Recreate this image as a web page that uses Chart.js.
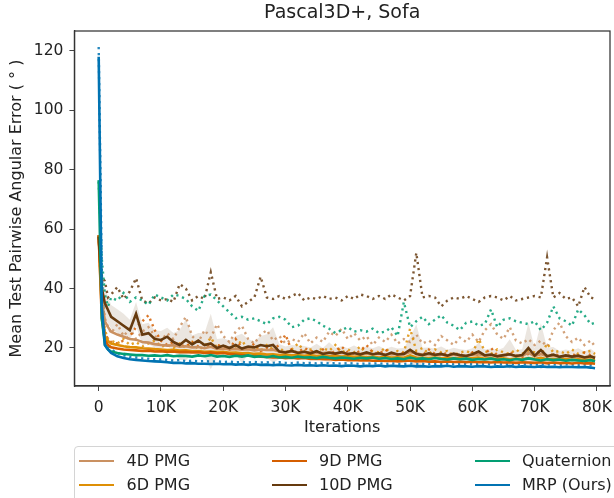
<!DOCTYPE html>
<html>
<head>
<meta charset="utf-8">
<script src="https://cdn.jsdelivr.net/npm/chart.js@4.4.1/dist/chart.umd.min.js"></script>
<style>
  html, body { margin: 0; padding: 0; background: #fff; }
  #wrap { position: relative; width: 614px; height: 498px; overflow: hidden; font-family: "DejaVu Sans", sans-serif; }
  #c { position: absolute; left: 0; top: 0; }
  #legend { position: absolute; left: 74px; top: 446px; width: 570px; height: 70px; border: 1px solid #d4d4d4; border-radius: 4px; background: rgba(255,255,255,0.85); }
  .lh { position: absolute; height: 2.6px; }
  .lt { position: absolute; font-size: 16px; line-height: 20px; height: 20px; color: #222; white-space: nowrap; }
</style>
</head>
<body>
<div id="wrap">
  <canvas id="c" width="614" height="498"></canvas>
  <div id="legend"></div>
</div>
<script>
// ---------------- data ----------------
const chartTitle = "Pascal3D+, Sofa";
const xTitle = "Iterations";
const yTitle = "Mean Test Pairwise Angular Error ( ° )";
const xTicks = [0, 10000, 20000, 30000, 40000, 50000, 60000, 70000, 80000];
const yTicks = [20, 40, 60, 80, 100, 120];

const iters = [0, 500, 1000, 1500, 2000,
  3000, 4000, 5000, 6000, 7000, 8000, 9000, 10000, 11000, 12000,
  13000, 14000, 15000, 16000, 17000, 18000, 19000, 20000, 21000, 22000,
  23000, 24000, 25000, 26000, 27000, 28000, 29000, 30000, 31000, 32000,
  33000, 34000, 35000, 36000, 37000, 38000, 39000, 40000, 41000, 42000,
  43000, 44000, 45000, 46000, 47000, 48000, 49000, 50000, 51000, 52000,
  53000, 54000, 55000, 56000, 57000, 58000, 59000, 60000, 61000, 62000,
  63000, 64000, 65000, 66000, 67000, 68000, 69000, 70000, 71000, 72000,
  73000, 74000, 75000, 76000, 77000, 78000, 79000,
  79700];

const seriesNames = ["4D PMG", "6D PMG", "9D PMG", "10D PMG", "Quaternion", "MRP (Ours)"];
const seriesColors = ["#ca9161", "#de8f05", "#d55e00", "#663a0e", "#029e73", "#0173b2"];

// solid (mean) curves
const pmg4 = [58, 36, 29, 27, 25.5,
  24.5, 23.8, 23.0, 22.8, 22.0, 21.8, 21.3, 21.0, 20.8, 20.9,
  20.4, 20.6, 20.2, 20.3, 19.9, 20.4, 19.7, 19.8, 19.5, 19.7,
  19.4, 19.6, 19.2, 19.5, 19.3, 19.4, 18.8, 18.6, 18.9, 18.5,
  18.7, 18.4, 18.6, 18.3, 18.5, 18.2, 18.4, 18.1, 18.3, 18.0,
  18.2, 17.9, 18.1, 17.8, 18.0, 17.8, 17.9, 18.6, 18.2, 17.7,
  17.9, 17.6, 17.8, 17.5, 17.7, 17.5, 17.4, 17.7, 17.9, 17.4,
  17.6, 17.3, 17.5, 17.8, 17.2, 17.4, 18.4, 17.3, 18.0, 17.2,
  17.4, 17.1, 17.3, 17.0, 17.2, 16.9, 17.1,
  16.8];
const pmg6 = [57.7, 32, 24, 22.3, 21.5,
  21.0, 20.6, 20.3, 20.2, 19.9, 19.8, 19.6, 19.5, 19.3, 19.4,
  19.1, 19.2, 18.9, 19.0, 18.7, 18.8, 18.6, 18.7, 18.4, 18.5,
  18.2, 18.3, 18.0, 18.1, 17.8, 17.9, 17.6, 17.8, 17.5, 17.6,
  17.4, 17.6, 17.3, 17.5, 17.2, 17.4, 17.1, 17.3, 17.0, 17.2,
  16.9, 17.1, 16.8, 17.0, 16.8, 16.9, 16.7, 17.5, 16.8, 16.7,
  16.6, 16.8, 16.5, 16.7, 16.5, 16.6, 16.4, 16.6, 16.8, 16.4,
  16.5, 16.3, 16.5, 16.2, 16.4, 16.2, 16.6, 16.3, 16.7, 16.2,
  16.3, 16.1, 16.3, 16.0, 16.2, 16.0, 16.1,
  15.9];
const pmg9 = [58, 30, 22.5, 21, 20.2,
  19.8, 19.5, 19.3, 19.2, 19.0, 19.1, 18.8, 18.9, 18.7, 18.8,
  18.6, 18.7, 18.5, 18.6, 18.3, 18.5, 18.2, 18.3, 18.0, 17.8,
  17.6, 17.4, 17.3, 17.1, 17.0, 16.8, 16.9, 16.6, 16.7, 16.5,
  16.6, 16.3, 16.4, 16.2, 16.3, 16.0, 16.1, 15.9, 16.0, 15.8,
  15.9, 15.7, 15.8, 15.6, 15.7, 15.5, 15.6, 15.8, 15.5, 15.6,
  15.4, 15.5, 15.3, 15.5, 15.3, 15.4, 15.2, 15.4, 15.2, 15.3,
  15.1, 15.3, 15.1, 15.2, 15.0, 15.2, 15.1, 15.0, 15.2, 14.9,
  15.1, 14.9, 15.0, 14.8, 15.0, 14.8, 14.9,
  14.7];
const pmg10 = [57.5, 40, 35, 32.8, 30.5,
  29.0, 27.5, 26.0, 31.5, 24.5, 25.0, 23.0, 22.7, 23.8, 22.0,
  21.0, 22.7, 21.2, 22.5, 21.0, 21.5, 20.0, 20.8, 20.0, 21.0,
  19.8, 20.5, 20.2, 21.0, 20.6, 21.0, 18.8, 18.5, 19.0, 18.3,
  18.7, 18.2, 18.9, 18.0, 18.4, 18.1, 18.6, 17.9, 18.3, 17.8,
  18.5, 17.9, 18.2, 17.6, 18.4, 17.8, 18.0, 19.4, 18.0, 17.6,
  18.2, 17.7, 18.0, 17.4, 18.1, 17.6, 17.3, 17.9, 18.8, 17.5,
  17.8, 17.2, 17.6, 17.9, 17.3, 17.6, 20.0, 17.4, 19.3, 17.2,
  17.8, 17.0, 17.5, 17.1, 17.4, 16.8, 17.2,
  16.6];
const pmg10Spread = [0, 6, 5, 4.5, 4,
  4, 4, 3.5, 4, 3.5, 3.5, 3, 3, 3, 3,
  5, 7, 3, 2.5, 4, 10, 3, 2.5, 2.5, 3,
  5, 2.5, 2, 3, 4, 6, 2.5, 2, 2, 2.5,
  2, 2, 2.5, 2, 3.5, 2, 2, 2, 2.5, 2,
  2, 2, 2.5, 2, 2, 2, 2, 4, 10, 2.5,
  2, 2, 2.5, 2, 2, 2, 2, 2, 3, 2,
  2, 2, 2.5, 5, 2, 2, 8.5, 2.5, 9, 3,
  2.5, 2, 2, 2, 2.5, 2, 2.5,
  2];
const quat = [76.5, 30, 21, 19.5, 18.8,
  18.3, 18.0, 17.8, 17.6, 17.6, 17.4, 17.5, 17.3, 17.6, 17.2,
  17.4, 17.3, 17.1, 17.5, 17.2, 17.6, 17.1, 17.3, 17.0, 17.4,
  17.1, 17.5, 17.0, 17.2, 16.9, 17.3, 16.8, 17.0, 16.7, 17.1,
  16.8, 16.9, 16.6, 17.0, 16.7, 16.5, 16.8, 16.6, 16.4, 16.7,
  16.5, 16.8, 16.4, 16.6, 16.3, 16.5, 16.2, 16.8, 16.3, 16.5,
  16.2, 16.6, 16.3, 16.1, 16.5, 16.2, 16.4, 16.0, 16.3, 16.1,
  16.4, 16.0, 16.2, 15.9, 16.3, 16.0, 16.5, 16.1, 15.8, 16.2,
  15.9, 16.1, 15.7, 16.0, 15.8, 15.6, 15.9,
  15.5];
const mrp = [118, 34, 21, 19.5, 18.3,
  17.2, 16.6, 16.2, 16.0, 15.8, 15.6, 15.5, 15.4, 15.2, 15.0,
  15.0, 14.8, 14.9, 14.7, 14.7, 14.6, 14.7, 14.5, 14.6, 14.4,
  14.5, 14.3, 14.5, 14.3, 14.4, 14.2, 14.4, 14.2, 14.1, 14.3,
  14.1, 14.2, 14.0, 14.2, 14.0, 14.1, 13.9, 14.1, 14.0, 13.8,
  14.0, 13.9, 14.1, 13.8, 14.0, 13.9, 13.8, 14.0, 13.8, 13.9,
  13.7, 13.9, 13.8, 14.0, 13.7, 13.9, 13.8, 13.7, 13.9, 13.8,
  13.6, 13.8, 13.7, 13.9, 13.6, 13.8, 13.7, 13.6, 13.8, 13.6,
  13.7, 13.5, 13.7, 13.6, 13.5, 13.6, 13.4,
  13.2];

// dotted curves
const pmg4Dot = [58, 40, 30, 27, 25,
  28, 24, 26.5, 23, 25.5, 27, 24, 22.5, 25, 23,
  27, 30.5, 24, 22, 26, 23.5, 28, 24, 22, 25.5,
  27.5, 23, 21.5, 24.5, 26, 22.5, 24, 21.5, 23, 22,
  25, 21.5, 23.5, 22, 25.5, 24, 26.5, 23, 25, 22.5,
  24, 21, 23.5, 22, 24.5, 21.5, 23, 22, 24.5, 21.5,
  22.5, 21, 24, 22.5, 21, 23.5, 22, 24.5, 22, 26,
  28, 24.5, 23, 27, 22.5, 21.5, 23, 21, 22.5, 20.5,
  26, 28.5, 24, 22, 23.5, 21, 22.5,
  20.5];
const pmg6Dot = [57.5, 36, 26, 23, 22.5,
  21.5, 23, 21, 22, 20.5, 21.5, 22.5, 20.5, 21, 20,
  21.5, 20, 22, 19.5, 20.5, 23.5, 20, 21, 19.5, 20.5,
  22.5, 19.5, 20.5, 19, 21, 19.5, 20, 18.5, 19.5, 21.5,
  19, 19.5, 18.5, 20, 19, 21, 18.5, 19.5, 18.5, 20.5,
  18, 19, 18.5, 20, 18, 19, 18.5, 26.5, 19, 20,
  18, 19.5, 18.5, 19, 17.5, 18.5, 19, 18, 23, 19,
  18, 19.5, 18.5, 18, 19.5, 18, 19, 18.5, 17.5, 21.5,
  18.5, 19, 18, 19.5, 18, 18.5, 19,
  18];
const pmg9Dot = [58, 34, 25, 23, 22,
  21.5, 22.5, 24, 27, 29, 31, 26, 22.5, 21, 22,
  21, 20.5, 22, 20.5, 21.5, 20, 21, 20.5, 19.5, 23,
  20, 19.5, 21.5, 19, 20, 19.5, 21, 24.5, 19, 18.5,
  20, 19, 18.5, 19.5, 18, 19, 20.5, 18.5, 18, 19,
  21, 18.5, 18, 19.5, 18, 17.5, 18.5, 19, 18, 17.5,
  19.5, 18, 17.5, 18.5, 17.5, 18, 17, 18.5, 17.5, 18,
  20, 17.5, 17, 18.5, 17.5, 17, 18, 17.5, 19.5, 17,
  18, 17.5, 17, 18, 17, 18.5, 17.5,
  17];
const pmg10Dot = [57, 44, 42.5, 37, 38,
  40.5, 36.5, 39, 43.5, 36, 35, 37, 36, 36.5, 35.5,
  41.5, 40, 36, 37.5, 36.5, 45.5, 36.5, 37, 36, 37.5,
  34, 35.5, 37, 44, 37, 36.5, 37.5, 36.5, 37.5, 38.5,
  36, 37, 36.5, 37.5, 36.5, 37, 36, 37.5, 36.5, 38,
  37.5, 36.5, 37.5, 36.5, 38, 37, 36, 37.5, 52, 37,
  37.5, 37, 34, 36, 37, 36.5, 37.5, 36.5, 35.5, 37,
  37.5, 37, 36, 37.5, 36, 36.5, 37, 37.5, 37, 50.5,
  37, 38.5, 36.5, 37, 34, 40.5, 37,
  36.5];
const quatDot = [76, 50, 38, 34, 37,
  36, 38.5, 35.5, 37, 36, 34.5, 38, 37, 36, 38,
  37.5, 36.5, 34, 32.5, 37.5, 38, 36, 34, 32, 30,
  30.5, 29.5, 30, 29, 28, 30, 30.5, 29.5, 27, 27.5,
  29.5, 30, 29, 27.5, 26.5, 25, 26, 27, 25.5, 26,
  25.5, 26.5, 25, 25.5, 27, 24, 35.5, 27, 29, 30.5,
  28, 29.5, 31, 28.5, 27.5, 26, 28.5, 28.9, 27.5, 28,
  33, 27, 29.5, 30, 29, 28.5, 28, 29, 26, 28.5,
  34, 30, 29, 27.5, 33, 31, 28,
  28.5];
const mrpDot = [121.3, 45, 23, 20.8, 19.5,
  18.2, 17.5, 17.0, 16.8, 16.5, 16.4, 16.2, 16.1, 16.0, 15.8,
  15.9, 15.6, 15.7, 15.5, 15.6, 15.4, 15.5, 15.3, 15.4, 15.2,
  15.3, 15.1, 15.3, 15.1, 15.2, 15.0, 15.2, 15.0, 14.9, 15.1,
  14.9, 15.0, 14.8, 15.0, 14.8, 14.9, 14.7, 14.9, 14.8, 14.6,
  14.8, 14.7, 14.9, 14.6, 14.8, 14.7, 14.6, 14.8, 14.6, 14.7,
  14.5, 14.7, 14.6, 14.8, 14.5, 14.7, 14.6, 14.5, 14.7, 14.6,
  14.4, 14.6, 14.5, 14.7, 14.4, 14.6, 14.5, 14.4, 14.6, 14.4,
  14.5, 14.3, 14.5, 14.4, 14.3, 14.4, 14.2,
  14.1];

// ---------------- chart ----------------
const solidSeries = [pmg4, pmg6, pmg9, pmg10, quat, mrp];
const dotSeries = [pmg4Dot, pmg6Dot, pmg9Dot, pmg10Dot, quatDot, mrpDot];
const pts = arr => iters.map((x, i) => ({ x: x, y: arr[i] }));

function hexA(hex, a) {
  const n = parseInt(hex.slice(1), 16);
  return `rgba(${(n >> 16) & 255},${(n >> 8) & 255},${n & 255},${a})`;
}

const datasets = [];
// band around 10D PMG (upper fills to lower)
datasets.push({
  label: "10D band upper", data: pts(pmg10.map((v, i) => v + pmg10Spread[i])),
  borderWidth: 0, borderColor: "rgba(0,0,0,0)", pointRadius: 0,
  backgroundColor: hexA(seriesColors[3], 0.13), fill: "+1", order: 100
});
datasets.push({
  label: "10D band lower", data: pts(pmg10.map((v, i) => Math.max(v - pmg10Spread[i], 12.8))),
  borderWidth: 0, borderColor: "rgba(0,0,0,0)", pointRadius: 0, fill: false, order: 100
});
dotSeries.forEach((arr, k) => {
  datasets.push({
    label: seriesNames[k] + " (dotted)", data: pts(arr),
    borderColor: hexA(seriesColors[k], 0.85), borderWidth: 2.4,
    borderDash: [2.2, 3.8], borderCapStyle: "butt",
    pointRadius: 0, fill: false, tension: 0, order: 60 - k
  });
});
solidSeries.forEach((arr, k) => {
  datasets.push({
    label: seriesNames[k], data: pts(arr),
    borderColor: seriesColors[k], borderWidth: 2.6,
    pointRadius: 0, fill: false, tension: 0, order: 20 - k
  });
});

const frameAndTitle = {
  id: "frameAndTitle",
  afterDraw(chart) {
    const { ctx, chartArea: a } = chart;
    ctx.save();
    ctx.strokeStyle = "#333";
    ctx.lineWidth = 1.25;
    ctx.strokeRect(a.left, a.top, a.right - a.left, a.bottom - a.top);
    ctx.fillStyle = "#222";
    ctx.font = '19px "DejaVu Sans"';
    ctx.textAlign = "center";
    ctx.textBaseline = "middle";
    ctx.fillText(chartTitle, (a.left + a.right) / 2, 13);
    ctx.restore();
  }
};

const tickFont = { family: "DejaVu Sans", size: 15.5 };
const labelFont = { family: "DejaVu Sans", size: 16 };

new Chart(document.getElementById("c"), {
  type: "line",
  data: { datasets: datasets },
  options: {
    responsive: false,
    animation: false,
    devicePixelRatio: 1,
    parsing: true,
    layout: { padding: { top: 31, right: 4, left: 0, bottom: 0 } },
    plugins: { legend: { display: false }, tooltip: { enabled: false }, title: { display: false } },
    scales: {
      x: {
        type: "linear", min: -3900, max: 82100,
        afterBuildTicks: s => { s.ticks = xTicks.map(v => ({ value: v })); },
        afterFit: s => { s.height = 112; s.paddingLeft = 0; s.paddingRight = 0; },
        ticks: {
          font: tickFont, color: "#222", padding: 8, maxRotation: 0, autoSkip: false,
          callback: v => (v === 0 ? "0" : (v / 1000) + "K")
        },
        grid: { display: true, drawOnChartArea: false, drawTicks: true, tickLength: 5, color: "#444", lineWidth: 1 },
        border: { display: true, color: "#333", width: 1.25 },
        title: { display: true, text: xTitle, font: labelFont, color: "#222", padding: { top: 0, bottom: 61 } }
      },
      y: {
        type: "linear", min: 7.2, max: 126.7,
        afterBuildTicks: s => { s.ticks = yTicks.map(v => ({ value: v })); },
        afterFit: s => { s.width = 74.4; s.paddingTop = 0; s.paddingBottom = 0; },
        ticks: { font: tickFont, color: "#222", padding: 6 },
        grid: { display: true, drawOnChartArea: false, drawTicks: true, tickLength: 5, color: "#444", lineWidth: 1 },
        border: { display: true, color: "#333", width: 1.25 },
        title: { display: true, text: yTitle, font: labelFont, color: "#222", padding: { top: 7.4, bottom: 0 } }
      }
    }
  },
  plugins: [frameAndTitle]
});

// ---------------- legend (HTML, column-major, 3 columns x 2 rows) ----------------
const wrap = document.getElementById("wrap");
const colHandleX = [78.7, 272, 475];
const colTextX = [126.6, 319, 522];
const rowY = [461, 485];
seriesNames.forEach((name, k) => {
  const col = Math.floor(k / 2), row = k % 2;
  const h = document.createElement("div");
  h.className = "lh";
  h.style.left = colHandleX[col] + "px";
  h.style.width = "35px";
  h.style.top = (rowY[row] - 1.3) + "px";
  h.style.background = seriesColors[k];
  wrap.appendChild(h);
  const t = document.createElement("div");
  t.className = "lt";
  t.style.left = colTextX[col] + "px";
  t.style.top = (rowY[row] - 10) + "px";
  t.textContent = name;
  wrap.appendChild(t);
});
</script>
</body>
</html>
